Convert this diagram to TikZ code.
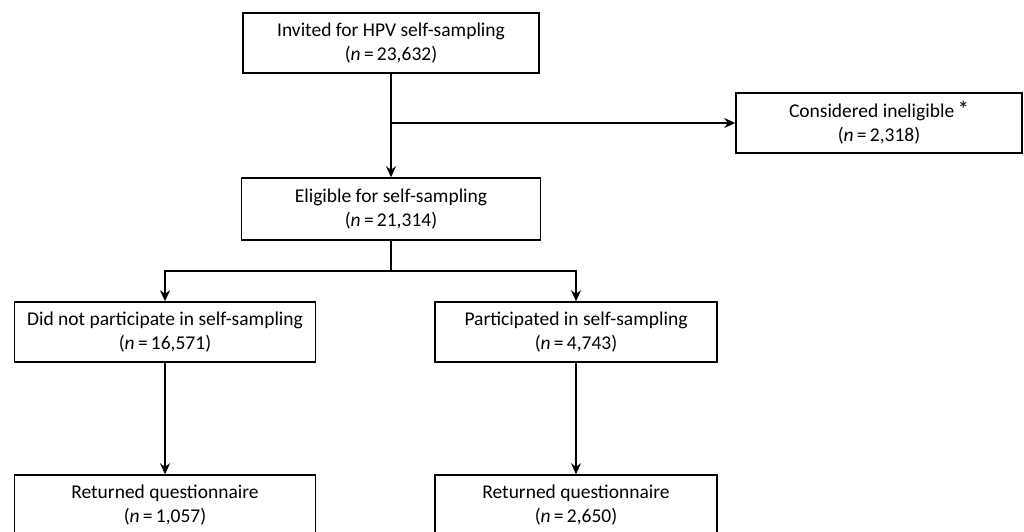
\documentclass[tikz,border=0pt]{standalone}
\usepackage{fontspec}
\setmainfont{Carlito}
\usetikzlibrary{arrows,arrows.meta,positioning,calc}
\tikzstyle{arrow} = [line width=1.5pt,-{Stealth[length=11pt,width=10pt]}]
\tikzstyle{link} = [line width=1.5pt]
\tikzstyle{flowbox} = [rectangle, draw, line width=1.5pt, inner sep=0pt, align=center, minimum height=60pt, font=\fontsize{19.5}{24}\selectfont]

\begin{document}
\begin{tikzpicture}[x=1pt,y=-1pt]
\useasboundingbox (0,0) rectangle (1024,532);
% Boxes
\node[flowbox, minimum width=296pt] (invited) at (391,43) {Invited for HPV self-sampling\\(\textit{n}\,=\,23,632)};
\node[flowbox, minimum width=286pt] (inelig) at (879,123) {Considered ineligible\,{\fontsize{23}{24}\selectfont*}\\(\textit{n}\,=\,2,318)};
\node[flowbox, minimum width=299pt, minimum height=62pt] (eligible) at (391,209) {Eligible for self-sampling\\(\textit{n}\,=\,21,314)};
\node[flowbox, minimum width=301pt] (nopart) at (165,332) {Did not participate in self-sampling\\(\textit{n}\,=\,16,571)};
\node[flowbox, minimum width=282pt] (part) at (576,332) {Participated in self-sampling\\(\textit{n}\,=\,4,743)};
\node[flowbox, minimum width=301pt] (retnopart) at (165,505) {Returned questionnaire\\(\textit{n}\,=\,1,057)};
\node[flowbox, minimum width=282pt] (retpart) at (576,505) {Returned questionnaire\\(\textit{n}\,=\,2,650)};

% Split points
\coordinate (split) at (invited.south |- inelig.west);
\coordinate (fork) at (391,271);

% Connectors
\draw[arrow] (invited) -- (eligible);
\draw[arrow] (split) -- (inelig);
\draw[link] (eligible) -- (fork);
\draw[arrow] (fork) -| (nopart);
\draw[arrow] (fork) -| (part);
\draw[arrow] (nopart) -- (retnopart);
\draw[arrow] (part) -- (retpart);
\end{tikzpicture}
\end{document}
